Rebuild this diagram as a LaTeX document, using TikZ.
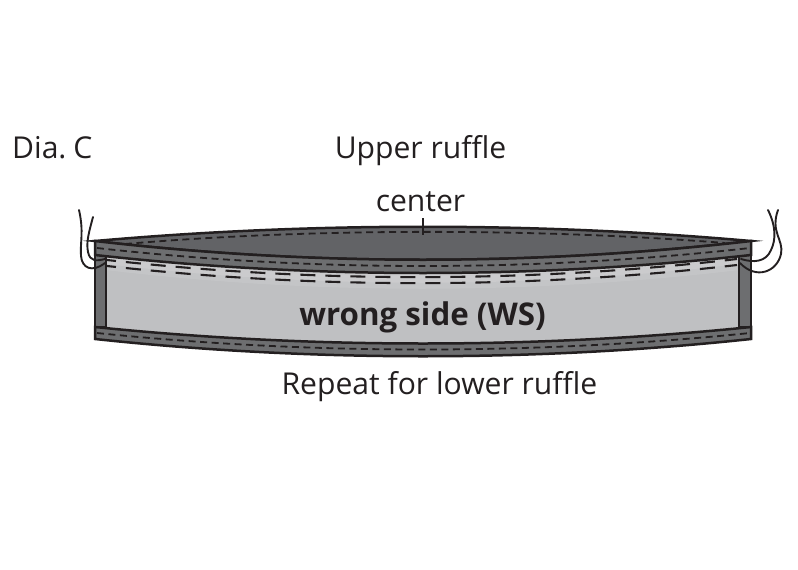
\documentclass[tikz,border=0pt]{standalone}
\usepackage{fontspec}
\setmainfont{Open Sans}
\definecolor{ink}{HTML}{231F20}
\definecolor{darkfab}{HTML}{6D6E70}
\definecolor{ovalfab}{HTML}{626366}
\definecolor{lightfab}{HTML}{BFC0C2}
\tikzset{
  edgeline/.style={draw=ink,line width=2.5pt,line join=miter},
  stitch/.style={draw=ink,line width=1.8pt,dash pattern=on 7pt off 4.5pt},
  longstitch/.style={draw=ink,line width=2.1pt,dash pattern=on 15pt off 10pt,dash phase=6pt},
  thread/.style={draw=ink,line width=1.9pt,line cap=round},
  glow/.style={line width=#1,line cap=butt},
  label/.style={text=ink,anchor=base,inner sep=0pt,font=\fontsize{30.1}{30}\selectfont}
}
\begin{document}
\begin{tikzpicture}[x=1pt,y=-1pt]
\useasboundingbox (0,0) rectangle (798,570);
% panel
\fill[lightfab] (106,250) .. controls (314,279) and (530,279) .. (739,250) -- (739,327) .. controls (530,349) and (314,349) .. (106,327) -- cycle;
% paler zone round the gathering stitches
\draw[glow=22pt,color=lightfab!92!white] (106,259) .. controls (314,284) and (530,284) .. (739,259);
\draw[glow=14pt,color=lightfab!82!white] (106,257) .. controls (314,282) and (530,282) .. (739,257);
% side strips
\path[edgeline,fill=darkfab] (95,250) rectangle (106,327);
\path[edgeline,fill=darkfab] (739,250) rectangle (751,327);
% long stitches
\path[longstitch] (107,260) .. controls (314,283) and (530,283) .. (737,259);
\path[longstitch] (107,266) .. controls (314,289) and (530,289) .. (737,265);
% oval
\path[edgeline,fill=ovalfab] (95,241) .. controls (310,222) and (536,222) .. (751,241) .. controls (536,266) and (310,266) .. (95,241) -- cycle;
\path[stitch] (125,244) .. controls (310,228) and (536,228) .. (725,243);
% upper band
\path[edgeline,fill=darkfab] (95,241) .. controls (310,266) and (536,266) .. (751,241) -- (751,255) .. controls (536,279) and (310,279) .. (95,255) -- cycle;
\path[stitch] (97,248) .. controls (310,272) and (536,272) .. (750,248);
% lower band
\path[edgeline,fill=darkfab] (95,327) .. controls (310,349) and (536,349) .. (751,327) -- (751,339) .. controls (536,362) and (310,362) .. (95,339) -- cycle;
\path[stitch] (97,333) .. controls (310,355) and (536,355) .. (750,333);
% centre tick
\coordinate (tickTop) at (423,218);
\coordinate (tickEnd) at (423,235);
\draw[ink,line width=1.8pt] (tickTop) -- (tickEnd);
% threads
\path[thread] (79,210) .. controls (84,232) and (80,242) .. (81,256) .. controls (82,268) and (92,273) .. (105,263);
\path[thread] (93,217) .. controls (89,232) and (86,242) .. (88,252) .. controls (90,262) and (97,261) .. (105,259);
\path[thread] (768,210) .. controls (776,226) and (776,240) .. (771,250) .. controls (766,262) and (754,263) .. (741,259);
\path[thread] (778,210) .. controls (770,232) and (784,240) .. (781,254) .. controls (777,272) and (756,280) .. (740,263);
% labels
\node[label,anchor=base west] (dia) at (12,158) {Dia.\hspace{7pt}C};
\node[label] (upper) at (420.5,158) {Upper ruffle};
\node[label] (center) at (420.5,211) {center};
\node[label,font=\fontsize{31.3}{31}\selectfont\bfseries] (ws) at (422.5,325) {wrong side (WS)};
\node[label] (repeat) at (439.5,394) {Repeat for lower ruffle};
\end{tikzpicture}
\end{document}
